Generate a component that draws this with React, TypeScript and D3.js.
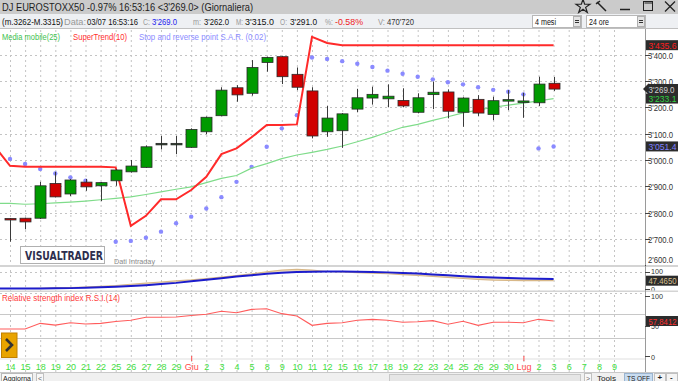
import React from "react";
import * as d3 from "d3";

// ---------- DATA ----------
const dateLabels = ["14","15","18","19","20","21","22","25","26","27","28","29","Giu","2","3","4","5","8","9","10","11","12","15","16","17","18","19","22","23","24","25","26","29","30","Lug","2","3","6","7","8","9"];
const monthNames = ["Giu", "Lug"];

const openP  = [2778,2779,2779,2911,2871,2916,2902,2921,2955,2972,3063,3063,3048,3107,3168,3274,3253,3370,3392,3325,3262,3107,3111,3193,3235,3232,3226,3181,3248,3258,3181,3230,3173,3225,3221,3217,3291];
const highP  = [2780,2781,2917,2955,2928,2928,2916,2965,3000,3055,3091,3091,3120,3165,3276,3284,3379,3392,3394,3351,3276,3205,3178,3270,3278,3287,3272,3253,3297,3268,3238,3246,3240,3265,3255,3316,3315];
const lowP   = [2690,2737,2776,2858,2863,2883,2844,2902,2952,2970,3040,3022,3046,3098,3166,3221,3244,3335,3288,3265,3082,3088,3046,3181,3210,3200,3200,3177,3193,3158,3126,3167,3151,3189,3160,3205,3262];
const closeP = [2775,2765,2902,2860,2924,2898,2914,2962,2977,3050,3063,3063,3116,3162,3265,3247,3351,3389,3316,3276,3091,3159,3175,3236,3249,3242,3205,3236,3257,3185,3235,3178,3225,3229,3224,3288,3269];

const sarValues = [3004,2985,2966,2949,2934,2921,2908,2690,2693,2705,2728,2760,2785,2816,2859,2917,2974,3050,3120,3170,3389,3383,3375,3365,3353,3339,3327,3316,3306,3295,3287,3276,3266,3259,3249,3044,3051.4];

// line series start one session before the first visible candle
const lineStart = -1;
const superTrend = [3050,2978,2974,2974,2974,2974,2974,2974,2972,2750,2788,2851,2851,2886,2936,3022,3044,3086,3133,3133,3135,3467,3444,3435.6,3435.6,3435.6,3435.6,3435.6,3435.6,3435.6,3435.6,3435.6,3435.6,3435.6,3435.6,3435.6,3435.6,3435.6];
const movingAvg = [2835,2835,2832,2834,2837,2840,2844,2849,2854,2860,2869,2879,2889,2898,2914,2930,2941,2969,2986,3005,3019,3029,3040,3053,3069,3086,3105,3124,3135,3150,3164,3179,3189,3200,3208,3216,3224,3233.1];
const rsiValues = [44.6,44.6,44.6,54,51,55,53,54,57,59,64,64,64.5,67,69,74,71.6,77,78,70,66,50.7,54,55,59,60.6,59,55.7,56.7,58.4,52.4,57.3,50.7,55.7,55.7,55,60.6,57.8412];
const volBlue = [3,3,3,3,4,5,7,10,13,17,22,28,35,44,53,62,71,79,87,93,97,99,100,100,99,97,95,92,88,83,78,73,69,66,63,60,58,57];
const volTan = [3,3,3,4,6,8,11,15,20,27,34,40,46,52,60,68,77,86,98,108,112,108,100,97,94,91,87,82,77,72,66,60,55,51,49,48,47.5,47.465];

const priceTicks = [2600,2700,2800,2900,3000,3100,3200,3300,3400];
const rsiTicks = [0,50,100];
const volTicks = [0,100];

// ---------- LAYOUT ----------
const W = 678, H = 381;
const plotRight = 645;
const FONT = "'Liberation Sans', Arial, sans-serif";

const fmtPrice = (v: number) => d3.format(",.1f")(v).replace(/,/g, "'");

type TP = { x: number; y: number; w: number; size?: number; fill?: string; children: React.ReactNode; weight?: string; family?: string; anchor?: string };
function T({ x, y, w, size = 9, fill = "#111", children, weight, family, anchor }: TP) {
  return (
    <text x={x} y={y} fontSize={size} fill={fill} textLength={w} lengthAdjust="spacingAndGlyphs"
      fontWeight={weight} fontFamily={family} textAnchor={anchor}>{children}</text>
  );
}

export default function App() {
  const x = d3.scaleLinear().domain([0, 40]).range([10, 614]);
  const y = d3.scaleLinear().domain([2600, 3500]).range([265.4, 28.2]);
  const yVol = d3.scaleLinear().domain([0, 100]).range([289, 271.5]);
  const yRsi = d3.scaleLinear().domain([0, 100]).range([356, 295.5]);

  const lineMain = d3.line<number>().x((_, i) => x(i + lineStart)).y(d => y(d));
  const lineRsi = d3.line<number>().x((_, i) => x(i + lineStart)).y(d => yRsi(d));
  const lineVol = d3.line<number>().x((_, i) => x(i + lineStart)).y(d => yVol(d));
  const areaVol = d3.area<number>()
    .x((_, i) => x(i + lineStart))
    .y0((_, i) => yVol(volBlue[i]))
    .y1(d => yVol(d));

  const bodyW = 11;
  const gridColor = "#c4c4c4";
  const lastClose = closeP[closeP.length - 1];

  const boxes = [
    { v: superTrend[superTrend.length - 1], col: "#ff2020", sc: y, txt: fmtPrice(superTrend[superTrend.length - 1]) },
    { v: movingAvg[movingAvg.length - 1], col: "#30d040", sc: y, txt: fmtPrice(movingAvg[movingAvg.length - 1]) },
    { v: sarValues[sarValues.length - 1], col: "#8080ff", sc: y, txt: fmtPrice(sarValues[sarValues.length - 1]) },
    { v: volTan[volTan.length - 1], col: "#d8c090", sc: yVol, txt: d3.format(".4f")(volTan[volTan.length - 1]) },
    { v: rsiValues[rsiValues.length - 1], col: "#ff3030", sc: yRsi, txt: d3.format(".4f")(rsiValues[rsiValues.length - 1]) },
  ];

  return (
    <svg width={W} height={H} style={{ position: "absolute", left: 0, top: 0, background: "#fff" }} fontFamily={FONT}>
      <defs>
        <clipPath id="clipMain"><rect x={0} y={29} width={plotRight} height={236.5} /></clipPath>
        <clipPath id="clipVol"><rect x={0} y={267} width={plotRight} height={23.5} /></clipPath>
        <clipPath id="clipRsi"><rect x={0} y={292} width={plotRight} height={66} /></clipPath>
      </defs>
      <rect x={0} y={0} width={W} height={H} fill="#ffffff" />

      {/* vertical grid */}
      {dateLabels.map((_, i) => (
        <line key={"vg" + i} x1={x(i) + 0.5} x2={x(i) + 0.5} y1={30} y2={372} stroke={gridColor} strokeDasharray="2,3" />
      ))}
      {/* horizontal grid main */}
      {priceTicks.map(t => (
        <line key={"hg" + t} x1={0} x2={plotRight} y1={Math.round(y(t)) + 0.5} y2={Math.round(y(t)) + 0.5} stroke={gridColor} strokeDasharray="2,3" />
      ))}
      {/* vol grid */}
      <line x1={0} x2={plotRight} y1={Math.round(yVol(100)) + 0.5} y2={Math.round(yVol(100)) + 0.5} stroke={gridColor} strokeDasharray="2,3" />
      {/* rsi grid */}
      <line x1={0} x2={plotRight} y1={Math.round(yRsi(100)) - 2.5} y2={Math.round(yRsi(100)) - 2.5} stroke={gridColor} strokeDasharray="2,3" />
      <line x1={0} x2={plotRight} y1={Math.round(yRsi(70)) + 0.5} y2={Math.round(yRsi(70)) + 0.5} stroke="#c8c8c8" />
      <line x1={0} x2={plotRight} y1={Math.round(yRsi(30)) + 0.5} y2={Math.round(yRsi(30)) + 0.5} stroke="#c8c8c8" />

      {/* panel separators */}
      <rect x={0} y={265} width={plotRight} height={2} fill="#d4d4d4" />
      <rect x={0} y={290.5} width={plotRight} height={1.5} fill="#d4d4d4" />
      <rect x={0} y={358.5} width={plotRight} height={1} fill="#e0e0e0" />

      {/* main panel */}
      <g clipPath="url(#clipMain)">
        {sarValues.map((v, i) => (
          <circle key={"sar" + i} cx={x(i)} cy={y(v)} r={2.2} fill="#8a8aff" />
        ))}
        <path d={lineMain(movingAvg) || ""} fill="none" stroke="#7fdc8a" strokeWidth={1.2} />
        <path d={lineMain(superTrend) || ""} fill="none" stroke="#ff2a2a" strokeWidth={2} />
        {openP.map((o, i) => {
          const c = closeP[i];
          const up = c >= o;
          const top = y(Math.max(o, c));
          const bot = y(Math.min(o, c));
          const h = Math.max(bot - top, 1.5);
          const cx = Math.round(x(i));
          return (
            <g key={"c" + i}>
              <line x1={cx + 0.5} x2={cx + 0.5} y1={y(highP[i])} y2={y(lowP[i])} stroke="#3a3a3a" strokeWidth={1} />
              <rect x={cx - bodyW / 2 + 0.5} y={top} width={bodyW} height={h}
                fill={o === c ? "#1e3a1e" : up ? "#009a00" : "#d00000"} stroke="#2a2a2a" strokeWidth={0.8} />
            </g>
          );
        })}
      </g>

      {/* legend */}
      <T x={2} y={40} w={58} size={9} fill="#3ec24e">Media mobile(25)</T>
      <T x={73} y={40} w={54} size={9} fill="#ff3030">SuperTrend(10)</T>
      <T x={139} y={40} w={127} size={9} fill="#8c8cff">Stop and reverse point S.A.R. (0.02)</T>

      {/* logo */}
      <rect x={20.5} y={246.5} width={84} height={17} fill="#fff" stroke="#b0b0b0" />
      <T x={25} y={259.5} w={78} size={12} weight="bold" family="'DejaVu Sans', sans-serif" fill="#2e2e4e">VISUALTRADER</T>
      <T x={114} y={263.5} w={41} size={8} fill="#8a8a8a">Dati Intraday</T>

      {/* volume panel */}
      <g clipPath="url(#clipVol)">
        <path d={areaVol(volTan) || ""} fill="#efe0c8" stroke="none" />
        <path d={lineVol(volTan) || ""} fill="none" stroke="#d8b888" strokeWidth={1.2} />
        <path d={lineVol(volBlue) || ""} fill="none" stroke="#1c1ccc" strokeWidth={2} />
      </g>

      {/* rsi panel */}
      <T x={2} y={301} w={118} size={9} fill="#ff3a3a">Relative strength index R.S.I.(14)</T>
      <g clipPath="url(#clipRsi)">
        <path d={lineRsi(rsiValues) || ""} fill="none" stroke="#ff5c5c" strokeWidth={1.1} />
      </g>

      {/* orange button */}
      <rect x={1.5} y={333} width={15.5} height={24.5} fill="#e8a400" stroke="#c08000" />
      <path d="M6,339 L12,345 L6,351" fill="none" stroke="#333" strokeWidth={2.6} />

      {/* right axis area */}
      <rect x={plotRight + 0.5} y={29} width={W - plotRight} height={343} fill="#ffffff" />
      <line x1={plotRight + 0.5} x2={plotRight + 0.5} y1={29} y2={372} stroke="#9a9a9a" />
      {priceTicks.map(t => (
        <g key={"pt" + t}>
          <line x1={plotRight} x2={plotRight + 5} y1={Math.round(y(t)) + 0.5} y2={Math.round(y(t)) + 0.5} stroke="#444" />
          <T x={648} y={Math.min(y(t) + 4, 263)} w={25} size={8.5} fill="#333">{fmtPrice(t)}</T>
        </g>
      ))}
      <rect x={plotRight + 1} y={265} width={W - plotRight} height={2} fill="#d4d4d4" />
      {volTicks.map(t => (
        <g key={"vt" + t}>
          <line x1={plotRight} x2={plotRight + 5} y1={Math.round(yVol(t)) + 0.5} y2={Math.round(yVol(t)) + 0.5} stroke="#444" />
          <T x={651} y={yVol(t) + 2.5} w={t === 100 ? 12 : 4} size={8} fill="#333">{t}</T>
        </g>
      ))}
      <rect x={plotRight + 1} y={290.5} width={W - plotRight} height={1.5} fill="#d4d4d4" />
      {rsiTicks.map(t => (
        <g key={"rt" + t}>
          <line x1={plotRight} x2={plotRight + 5} y1={Math.round(yRsi(t)) + 0.5} y2={Math.round(yRsi(t)) + 0.5} stroke="#444" />
          <T x={651} y={yRsi(t) + 3.5} w={t === 100 ? 12 : t === 50 ? 8 : 4} size={8} fill="#333">{t}</T>
        </g>
      ))}

      {/* value boxes */}
      {boxes.map((b, k) => (
        <g key={"box" + k}>
          <rect x={plotRight + 1} y={b.sc(b.v) - 5} width={W - plotRight} height={10} fill="#2c2c2c" />
          <T x={648.5} y={b.sc(b.v) + 3.5} w={28} size={8.5} fill={b.col}>{b.txt}</T>
        </g>
      ))}
      {/* last price marker */}
      <path d={`M${plotRight - 2},${y(lastClose)} L${plotRight + 3},${y(lastClose) - 5} L${W},${y(lastClose) - 5} L${W},${y(lastClose) + 5} L${plotRight + 3},${y(lastClose) + 5} Z`} fill="#2c2c2c" />
      <T x={648.5} y={y(lastClose) + 3.5} w={26} size={8.5} fill="#d0d0d0">{fmtPrice(lastClose)}</T>

      {/* date axis */}
      {dateLabels.map((d, i) => (
        <text key={"dl" + i} x={x(i) + 0.5} y={369.5} textAnchor="middle" fontSize={9}
          fill={monthNames.includes(d) ? "#ff4a4a" : "#3ee03e"}>{d}</text>
      ))}
      {monthNames.map(m => {
        const i = dateLabels.indexOf(m);
        return <line key={"mt" + m} x1={x(i) + 0.5} x2={x(i) + 0.5} y1={356} y2={361} stroke="#ff4a4a" />;
      })}

      {/* bottom bar */}
      <rect x={0} y={372.5} width={W} height={9} fill="#f0f0f0" />
      <line x1={0} x2={W} y1={372.5} y2={372.5} stroke="#c8c8c8" />
      <rect x={1.5} y={373.5} width={31} height={8} fill="#fafafa" stroke="#b8b8b8" />
      <T x={3} y={380.5} w={28} size={7.5} fill="#222">Aggiorna</T>
      <rect x={36.5} y={373.5} width={7} height={8} fill="#f8f8f8" stroke="#c0c0c0" />
      <text x={38} y={380.5} fontSize={7} fill="#666">&lt;</text>
      <rect x={389.5} y={374.5} width={191} height={7} fill="#e6e6e6" stroke="#c8c8c8" />
      <rect x={584.5} y={373.5} width={7} height={8} fill="#f8f8f8" stroke="#c0c0c0" />
      <text x={586} y={380.5} fontSize={7} fill="#666">&gt;</text>
      <T x={597} y={380.5} w={19} size={8} fill="#222">Tools</T>
      <rect x={624.5} y={373.5} width={28} height={8} fill="#c8dcf0" stroke="#9ab4d0" />
      <T x={627} y={380.5} w={23} size={8} fill="#222">TS OFF</T>
      <rect x={654.5} y={373.5} width={11} height={8} fill="#f4f4f4" stroke="#c0c0c0" />
      <text x={657.5} y={380} fontSize={8} fontWeight="bold" fill="#222">+</text>
      <rect x={666.5} y={373.5} width={11} height={8} fill="#f4f4f4" stroke="#c0c0c0" />
      <text x={670} y={380} fontSize={8} fontWeight="bold" fill="#222">-</text>

      {/* title bar */}
      <rect x={0} y={0} width={W} height={14} fill="#cbcbcb" />
      <T x={2} y={11} w={251} size={10.5} fill="#1e1e1e">DJ EUROSTOXX50 -0.97% 16:53:16  &lt;3'269.0&gt; (Giornaliera)</T>
      <path d={d3.symbol(d3.symbolStar, 60)() || ""} transform="translate(583,6.5)" fill="none" stroke="#222" strokeWidth={1.2} />
      <line x1={597} x2={606} y1={2} y2={11} stroke="#222" strokeWidth={1.5} />
      <line x1={596} x2={600} y1={4} y2={1} stroke="#222" strokeWidth={1.5} />
      <line x1={620} x2={630} y1={9.5} y2={9.5} stroke="#222" strokeWidth={1.5} />
      <rect x={643.5} y={1.5} width={9} height={9} fill="none" stroke="#222" />
      <line x1={644.5} x2={652} y1={3} y2={3} stroke="#222" />
      <line x1={665} x2={675} y1={1.5} y2={11.5} stroke="#222" strokeWidth={1.2} />
      <line x1={675} x2={665} y1={1.5} y2={11.5} stroke="#222" strokeWidth={1.2} />

      {/* info bar */}
      <rect x={0} y={14} width={W} height={15} fill="#eef0f3" />
      <line x1={0} x2={W} y1={28.5} y2={28.5} stroke="#c0c0c0" />
      <T x={2} y={25} w={61} size={9} fill="#111">(m.3262-M.3315)</T>
      <T x={64} y={25} w={22} size={9} fill="#999">Data:</T>
      <T x={87} y={25} w={51} size={9} fill="#111">03/07 16:53:16</T>
      <T x={143} y={25} w={7} size={9} fill="#999">C:</T>
      <T x={152} y={25} w={25} size={9} fill="#2222ee">3'269.0</T>
      <T x={193} y={25} w={8} size={9} fill="#999">m:</T>
      <T x={204} y={25} w={25} size={9} fill="#111">3'262.0</T>
      <T x={236} y={25} w={7} size={9} fill="#999">M:</T>
      <T x={245} y={25} w={29} size={9} fill="#111">3'315.0</T>
      <T x={280} y={25} w={7} size={9} fill="#999">O:</T>
      <T x={290} y={25} w={27} size={9} fill="#111">3'291.0</T>
      <T x={325} y={25} w={8} size={9} fill="#999">%:</T>
      <T x={335} y={25} w={28} size={9} fill="#ee2222">-0.58%</T>
      <T x={378} y={25} w={7} size={9} fill="#999">V:</T>
      <T x={387} y={25} w={27} size={9} fill="#333">470'720</T>
      <rect x={532.5} y={15.5} width={49} height={12} fill="#fff" stroke="#b8b8b8" />
      <T x={535} y={25} w={21} size={8.5} fill="#111">4 mesi</T>
      <rect x={573.5} y={16.5} width={7} height={10} fill="#e4e4e4" stroke="#b0b0b0" />
      <rect x={586.5} y={15.5} width={59} height={12} fill="#fff" stroke="#b8b8b8" />
      <T x={589} y={25} w={20} size={8.5} fill="#111">24 ore</T>
      <rect x={637.5} y={16.5} width={7} height={10} fill="#e4e4e4" stroke="#b0b0b0" />
      {[575, 639].map(bx => (
        <g key={"dd" + bx}>
          <line x1={bx} x2={bx + 4} y1={20.5} y2={20.5} stroke="#333" />
          <line x1={bx} x2={bx + 4} y1={22.5} y2={22.5} stroke="#333" />
        </g>
      ))}
    </svg>
  );
}
